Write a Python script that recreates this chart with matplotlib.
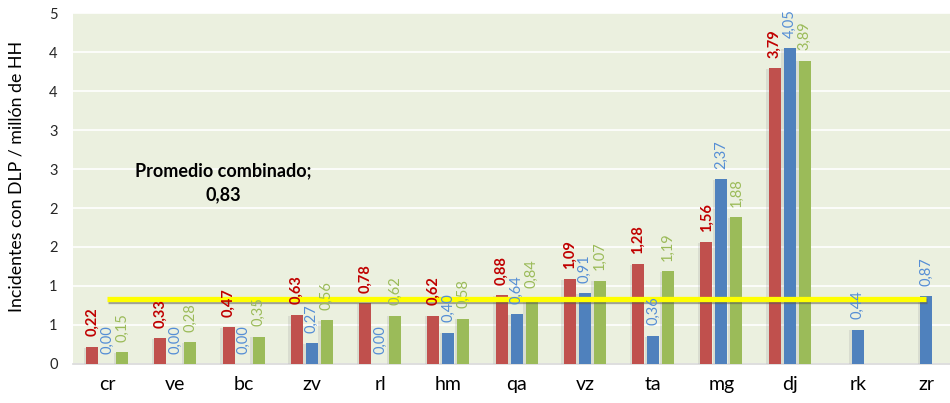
import numpy as np
import matplotlib
matplotlib.use("Agg")
import matplotlib.pyplot as plt
import matplotlib.patheffects as pe

categories = ["cr", "ve", "bc", "zv", "rl", "hm", "qa", "vz", "ta", "mg", "dj", "rk", "zr"]
serie_roja = [0.22, 0.33, 0.47, 0.63, 0.78, 0.62, 0.88, 1.09, 1.28, 1.56, 3.79, np.nan, np.nan]
serie_azul = [0.00, 0.00, 0.00, 0.27, 0.00, 0.40, 0.64, 0.91, 0.36, 2.37, 4.05, 0.44, 0.87]
serie_verde = [0.15, 0.28, 0.35, 0.56, 0.62, 0.58, 0.84, 1.07, 1.19, 1.88, 3.89, np.nan, np.nan]
promedio = 0.83
yticks = [0, 0.5, 1, 1.5, 2, 2.5, 3, 3.5, 4, 4.5]
ytick_labels = ["0", "1", "1", "2", "2", "3", "3", "4", "4", "5"]

plt.rcParams['font.family'] = ['Lato', 'DejaVu Sans']

fig = plt.figure(figsize=(9.5, 4.03), dpi=100)
ax = fig.add_axes([0.0768, 0.0968, 0.9232, 0.8709])
ax.set_facecolor("#EBF0DF")

x = np.arange(len(categories))
w = 0.175
off = 0.22
series = [
    (serie_roja, -off, "#C0504D", "#C00000", "bold"),
    (serie_azul, 0.0, "#4F81BD", "#558ED5", "normal"),
    (serie_verde, off, "#9BBB59", "#9BBB59", "normal"),
]
shadow = [pe.SimplePatchShadow(offset=(-1.8, -0.5), shadow_rgbFace="#8C8C8C", alpha=0.18), pe.Normal()]
for vals, o, col, lcol, lw in series:
    v = np.array(vals, dtype=float)
    bars = ax.bar(x + o, np.nan_to_num(v), width=w, color=col, zorder=3)
    for b, val in zip(bars, v):
        if np.isnan(val):
            b.set_visible(False)
            continue
        b.set_path_effects(shadow)
        ax.annotate(f"{val:.2f}".replace(".", ","), (b.get_x() + b.get_width() / 2, val),
                    xytext=(0, 7.5), textcoords="offset points", rotation=90,
                    ha="center", va="bottom", color=lcol, fontsize=10.5, fontweight=lw, zorder=5)

ax.plot(x, [promedio] * len(x), color="#FFFF00", lw=3.8, zorder=4, solid_capstyle="butt",
        path_effects=[pe.SimpleLineShadow(offset=(0.8, -1.2), shadow_color="#555555", alpha=0.5), pe.Normal()])

ax.text(1.70, 2.33, "Promedio combinado;\n0,83", ha="center", va="center", fontsize=13,
        fontweight="bold", color="#000000", linespacing=1.5, zorder=6)

ax.set_xlim(-0.5, 12.35)
ax.set_ylim(0, 4.5)
ax.set_yticks(yticks)
ax.set_yticklabels(ytick_labels)
ax.set_xticks(x)
ax.set_xticklabels(categories)
ax.grid(axis="y", color="white", lw=1.2, zorder=1)
ax.set_axisbelow(True)
for s in ["top", "right", "left"]:
    ax.spines[s].set_visible(False)
ax.spines["bottom"].set_color("#D9D9D9")
ax.spines["bottom"].set_linewidth(1.2)
ax.tick_params(axis="y", length=0, pad=11, labelsize=10.5, labelcolor="#262626")
ax.tick_params(axis="x", length=0, pad=9, labelsize=14, labelcolor="#000000")
ax.set_ylabel("Incidentes con DLP / millón de HH", fontsize=12.8, color="#000000")
ax.yaxis.set_label_coords(-0.055, 0.535)

fig.savefig("out.png", dpi=100)
